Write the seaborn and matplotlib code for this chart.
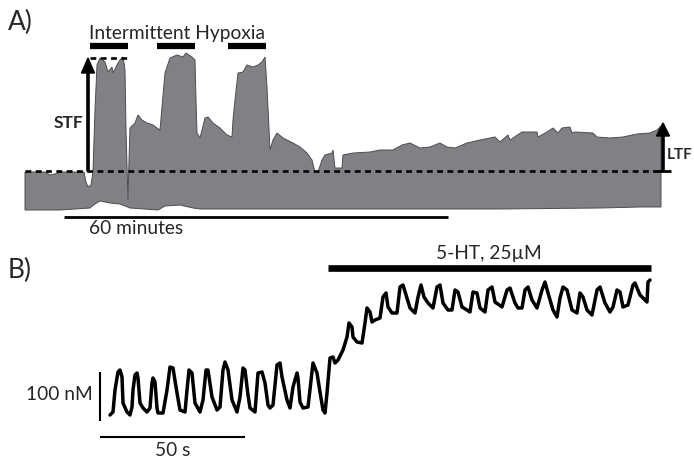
import matplotlib
matplotlib.use("Agg")
import matplotlib.pyplot as plt
import seaborn as sns
import pandas as pd

sns.set_theme(style="white")
plt.rcParams['font.family'] = ['Lato', 'DejaVu Sans']

# ---------------- Panel A: ventilatory trace envelope (pixel-like units) ----------
trace_a_top_x = [25, 45, 50, 55, 60, 84, 86, 88, 91, 93, 95, 97, 100, 105, 108, 112, 113, 117, 120, 123,
                 125, 126, 128, 129, 130, 135, 138, 142, 147, 153, 157, 160, 162, 165, 170, 177, 183, 186,
                 192, 195, 196, 197, 200, 205, 208, 213, 220, 227, 232, 233, 235, 238, 243, 247, 253, 258,
                 262, 265, 267, 270, 273, 277, 283, 293, 300, 307, 312, 315, 318, 322, 325, 332, 333, 335,
                 342, 343, 353, 370, 380, 393, 402, 410, 420, 430, 440, 447, 455, 467, 480, 495, 500, 508,
                 510, 522, 537, 538, 547, 553, 558, 562, 570, 572, 575, 593, 597, 610, 623, 637, 650, 657, 661]
trace_a_top_y = [172, 172, 175, 174, 172, 172, 182, 187, 185, 172, 110, 65, 58, 62, 72, 67, 73, 65, 60, 57,
                 70, 130, 200, 160, 128, 123, 115, 120, 123, 125, 128, 130, 107, 73, 58, 55, 57, 53,
                 57, 60, 100, 133, 138, 118, 117, 123, 128, 135, 137, 120, 100, 73, 72, 65, 67, 65,
                 62, 57, 87, 150, 140, 133, 138, 143, 147, 153, 160, 172, 172, 160, 155, 153, 150, 168,
                 168, 155, 153, 152, 150, 150, 145, 143, 148, 147, 143, 147, 148, 143, 140, 137, 142, 135,
                 140, 132, 132, 137, 132, 128, 133, 128, 127, 133, 132, 133, 137, 138, 137, 134, 133, 130, 126]
trace_a_bot_x = [661, 640, 600, 500, 400, 300, 200, 193, 180, 165, 158, 130, 120, 110, 100, 95, 90, 60, 25]
trace_a_bot_y = [207, 207, 208, 209, 209, 209, 209, 208, 205, 206, 210, 208, 204, 203, 201, 204, 208, 210, 210]

baseline_y = 171
stf_peak_y = 58
ltf_level_y = 123
hypoxia_bars = [(90, 128), (157, 195), (228, 266)]
minutes_bar = (64, 448, 217)

# ---------------- Panel B: calcium trace --------------------------------
trace_b_x = [110, 113, 115, 118, 120, 122, 123, 127, 130, 132, 133, 135, 137, 138, 140, 143, 147, 150,
             152, 153, 155, 157, 158, 163, 167, 170, 173, 177, 180, 185, 187, 189, 192, 195, 200, 203,
             206, 208, 212, 217, 220, 223, 225, 228, 232, 237, 240, 243, 245, 248, 250, 255, 258, 262,
             265, 268, 270, 273, 277, 280, 282, 287, 290, 293, 297, 298, 300, 303, 308, 313, 317, 320,
             323, 325, 327, 330, 333, 335, 338, 343, 347, 349, 352, 353, 357, 362, 365, 367, 370, 372,
             375, 380, 383, 386, 388, 392, 397, 400, 403, 407, 410, 415, 418, 421, 424, 428, 433, 437,
             440, 443, 448, 452, 455, 458, 462, 467, 470, 473, 477, 480, 485, 488, 492, 495, 502, 507,
             510, 515, 518, 522, 525, 528, 532, 537, 542, 545, 548, 553, 557, 560, 563, 567, 572, 577,
             580, 583, 587, 592, 597, 600, 605, 610, 613, 617, 620, 623, 628, 633, 635, 640, 647, 648, 650]
trace_b_y = [415, 412, 390, 372, 370, 377, 403, 412, 415, 407, 390, 375, 373, 378, 403, 408, 412, 408,
             383, 378, 382, 408, 413, 413, 390, 367, 368, 393, 410, 412, 390, 370, 373, 403, 412, 400,
             370, 370, 397, 410, 407, 370, 362, 370, 400, 412, 397, 368, 370, 395, 408, 412, 373, 372,
             383, 405, 408, 405, 365, 363, 377, 400, 408, 387, 373, 378, 402, 408, 407, 363, 373, 392,
             410, 413, 393, 358, 357, 363, 360, 350, 337, 323, 327, 337, 342, 343, 323, 308, 312, 322,
             320, 318, 297, 293, 307, 313, 313, 287, 285, 298, 308, 313, 297, 285, 297, 303, 308, 287,
             285, 303, 310, 310, 290, 292, 307, 310, 312, 292, 293, 308, 312, 290, 287, 302, 307, 290,
             288, 303, 308, 308, 290, 287, 300, 308, 290, 282, 293, 310, 317, 298, 287, 290, 310, 313,
             293, 297, 310, 315, 290, 287, 303, 312, 307, 290, 292, 307, 305, 285, 283, 295, 302, 282, 280]

drug_bar = (328, 651, 268)
nm_bar = (100, 372, 421)
sec_bar = (100, 245, 437)

# ---------------- Figure ------------------------------------------------------
fig = plt.figure(figsize=(6.94, 4.59), dpi=100)
ax = fig.add_axes([0, 0, 1, 1])

poly_x = trace_a_top_x + trace_a_bot_x
poly_y = trace_a_top_y + trace_a_bot_y
ax.fill(poly_x, poly_y, facecolor='#808184', edgecolor='#4d4d4f', linewidth=0.7, zorder=1)

# baseline dashed
ax.plot([25, 654], [baseline_y, baseline_y], color='black', lw=1.9,
        dashes=(2.2, 1.7), zorder=3)
# STF top dashed
ax.plot([90, 128], [stf_peak_y, stf_peak_y], color='black', lw=1.9,
        dashes=(2.2, 1.7), zorder=3)

# STF arrow
ax.arrow(88, baseline_y, 0, stf_peak_y - baseline_y, width=2.2, head_width=13, head_length=15,
         length_includes_head=True, color='black', zorder=4)
# LTF arrow
ax.arrow(663, baseline_y, 0, ltf_level_y - baseline_y, width=2.2, head_width=13, head_length=13,
         length_includes_head=True, color='black', zorder=4)
ax.plot([653, 671], [baseline_y, baseline_y], color='black', lw=2.0, solid_capstyle='butt', zorder=4)

for x0, x1 in hypoxia_bars:
    ax.plot([x0, x1], [46, 46], color='black', lw=4.5, solid_capstyle='butt')
ax.plot([minutes_bar[0], minutes_bar[1]], [minutes_bar[2]] * 2, color='black', lw=2.0,
        solid_capstyle='butt')

ax.text(8, 22, 'A)', fontsize=19, va='center', ha='left')
ax.text(177, 33, 'Intermittent Hypoxia', fontsize=13.8, va='center', ha='center')
ax.text(136, 228, '60 minutes', fontsize=13.8, va='center', ha='center')
ax.text(69, 123, 'STF', fontsize=12.5, fontweight='bold', va='center', ha='center')
ax.text(667, 155, 'LTF', fontsize=11, fontweight='bold', va='center', ha='left')

# Panel B
df_b = pd.DataFrame({'x': trace_b_x, 'y': trace_b_y})
sns.lineplot(data=df_b, x='x', y='y', sort=False, estimator=None, color='black', lw=2.5,
             solid_joinstyle='round', solid_capstyle='round', ax=ax)
ax.set_xlim(0, 694)
ax.set_ylim(459, 0)
ax.axis('off')

ax.plot([drug_bar[0], drug_bar[1]], [drug_bar[2]] * 2, color='black', lw=4.8, solid_capstyle='butt')
ax.plot([nm_bar[0]] * 2, [nm_bar[1], nm_bar[2]], color='black', lw=1.5, solid_capstyle='butt')
ax.plot([sec_bar[0], sec_bar[1]], [sec_bar[2]] * 2, color='black', lw=1.5, solid_capstyle='butt')

ax.text(8, 270, 'B)', fontsize=19, va='center', ha='left')
ax.text(489, 253, '5-HT, 25\u00b5M', fontsize=13.8, va='center', ha='center')
ax.text(59, 395, '100 nM', fontsize=13.8, va='center', ha='center')
ax.text(173, 450, '50 s', fontsize=13.8, va='center', ha='center')

fig.savefig('out.png', dpi=100)
